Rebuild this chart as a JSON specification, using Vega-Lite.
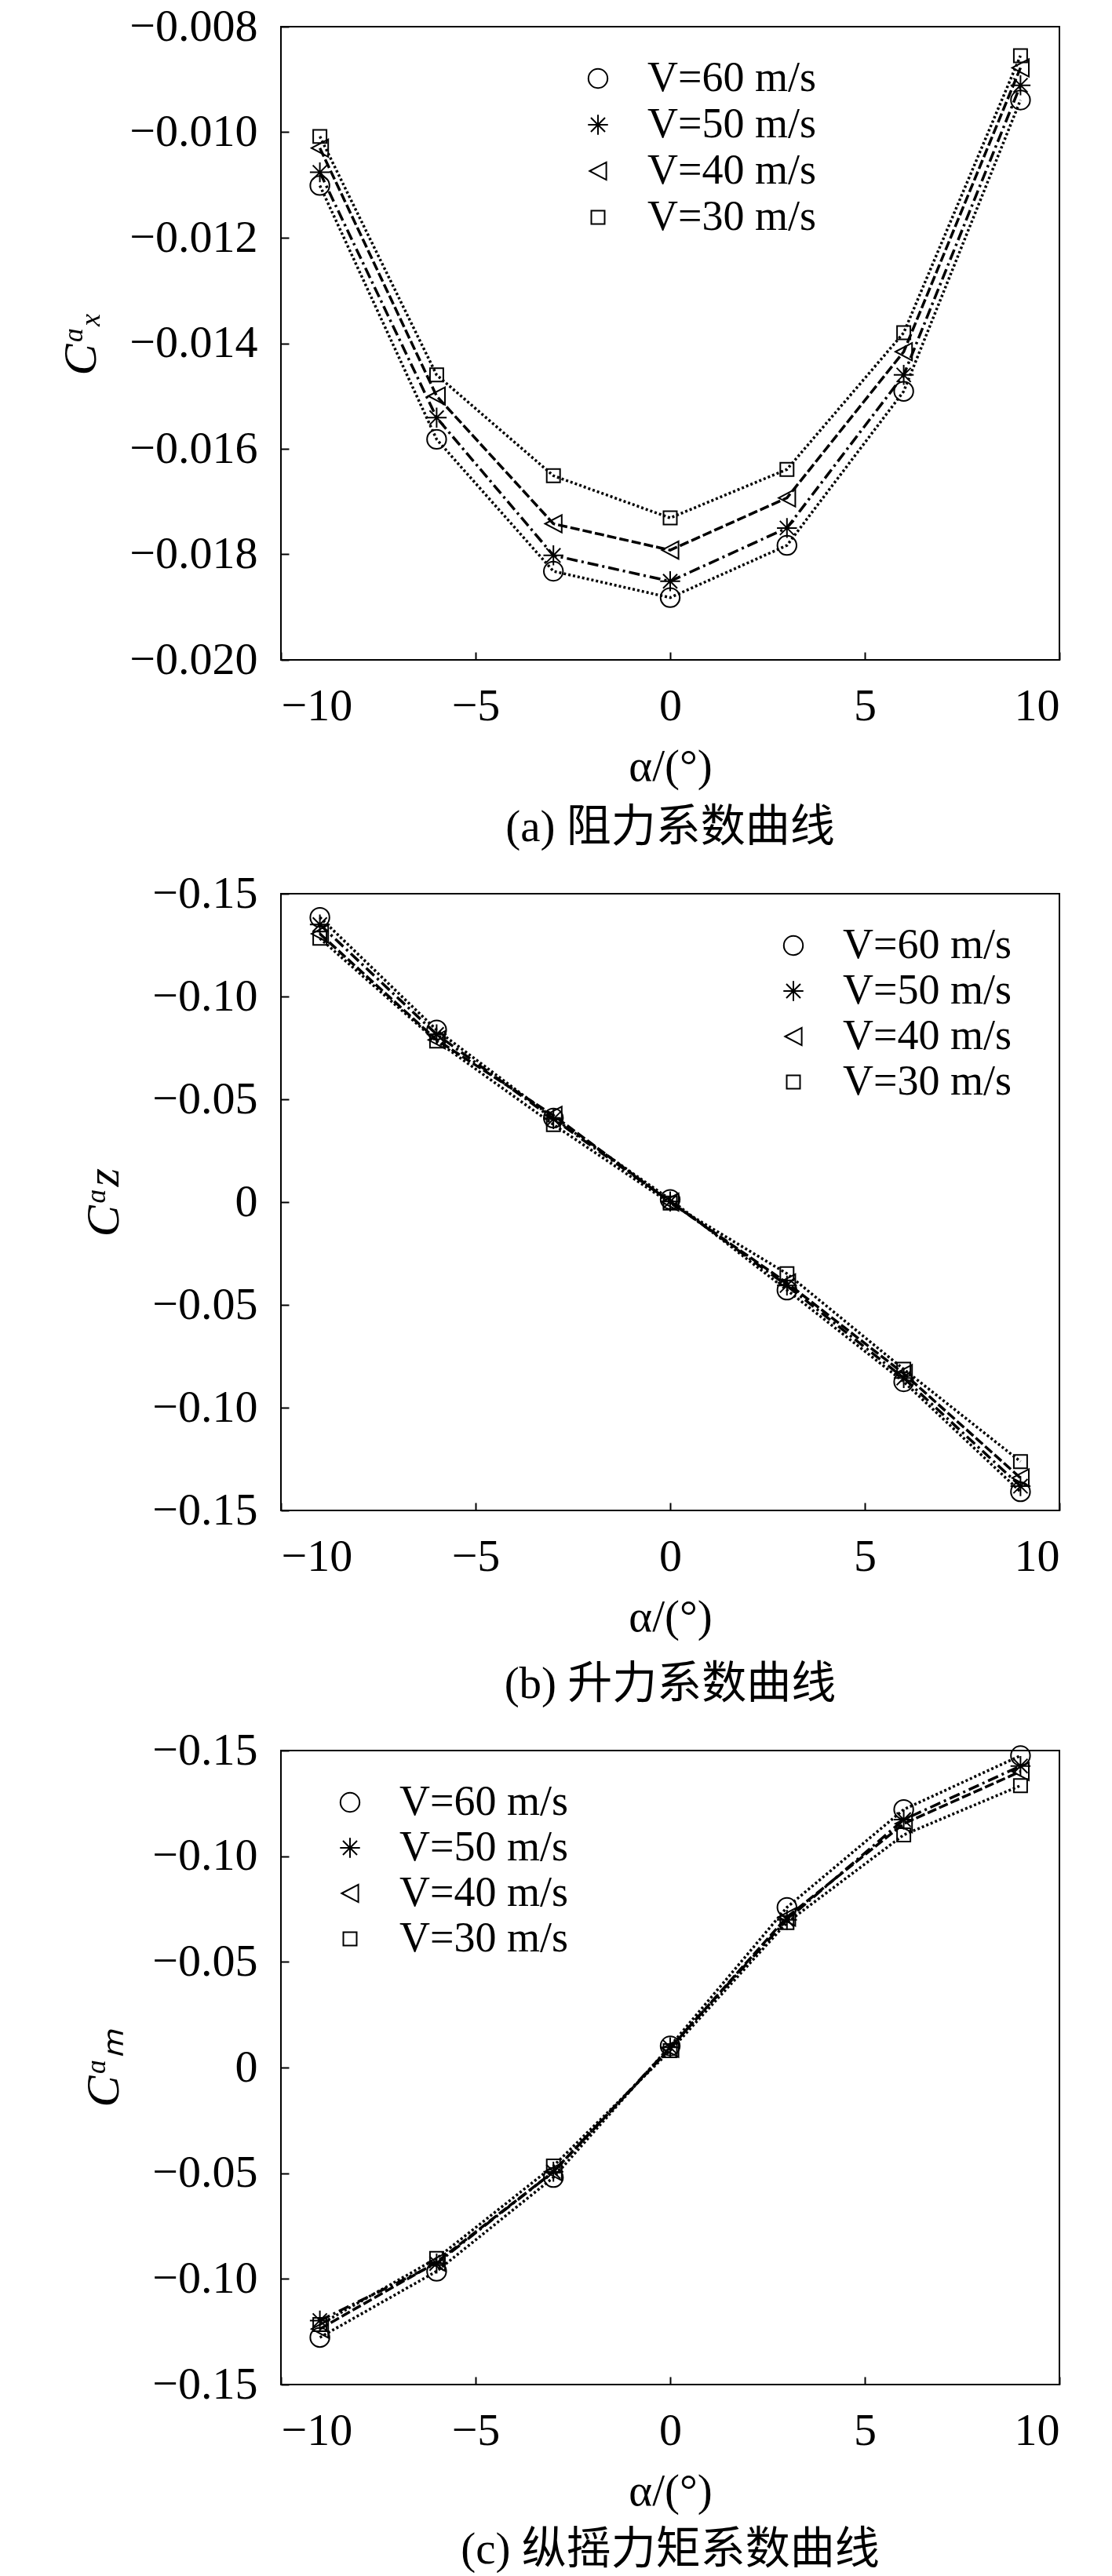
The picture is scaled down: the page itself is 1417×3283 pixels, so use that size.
{
  "$schema": "https://vega.github.io/schema/vega-lite/v6.json",
  "background": "white",
  "padding": {"left": 72, "top": 4, "right": 5, "bottom": 0},
  "spacing": 25,
  "resolve": {"scale": {"shape": "independent", "strokeDash": "independent"}, "legend": {"shape": "independent", "strokeDash": "independent"}},
  "config": {
    "view": {"stroke": "black", "strokeWidth": 2},
    "axis": {
      "labelFont": "Liberation Serif, Times New Roman, serif", "labelFontSize": 58, "labelColor": "black",
      "titleFont": "Liberation Serif, Times New Roman, serif", "titleFontSize": 57, "titleFontWeight": "normal", "titleColor": "black",
      "tickColor": "black", "tickSize": -10, "tickWidth": 2, "grid": false, "domain": false,
      "labelPadding": 40, "titlePadding": 20
    },
    "axisY": {"titleFontStyle": "italic", "titlePadding": 30, "titleFontSize": 60},
    "legend": {"padding": 0, "labelLimit": 500, "symbolOpacity": 1},
    "title": {"font": "Liberation Serif, Noto Sans CJK SC", "fontSize": 57, "fontWeight": "normal", "color": "black", "orient": "bottom", "offset": 22}
  },
  "datasets": {
    "a": [
      {"alpha": -9, "V": "V=60 m/s", "c": -0.01101}, {"alpha": -6, "V": "V=60 m/s", "c": -0.01582}, {"alpha": -3, "V": "V=60 m/s", "c": -0.01832}, {"alpha": 0, "V": "V=60 m/s", "c": -0.01882}, {"alpha": 3, "V": "V=60 m/s", "c": -0.01783}, {"alpha": 6, "V": "V=60 m/s", "c": -0.01491}, {"alpha": 9, "V": "V=60 m/s", "c": -0.00939},
      {"alpha": -9, "V": "V=50 m/s", "c": -0.01076}, {"alpha": -6, "V": "V=50 m/s", "c": -0.01541}, {"alpha": -3, "V": "V=50 m/s", "c": -0.01802}, {"alpha": 0, "V": "V=50 m/s", "c": -0.01851}, {"alpha": 3, "V": "V=50 m/s", "c": -0.01750}, {"alpha": 6, "V": "V=50 m/s", "c": -0.01460}, {"alpha": 9, "V": "V=50 m/s", "c": -0.00911},
      {"alpha": -9, "V": "V=40 m/s", "c": -0.01030}, {"alpha": -6, "V": "V=40 m/s", "c": -0.01500}, {"alpha": -3, "V": "V=40 m/s", "c": -0.01742}, {"alpha": 0, "V": "V=40 m/s", "c": -0.01792}, {"alpha": 3, "V": "V=40 m/s", "c": -0.01693}, {"alpha": 6, "V": "V=40 m/s", "c": -0.01416}, {"alpha": 9, "V": "V=40 m/s", "c": -0.00878},
      {"alpha": -9, "V": "V=30 m/s", "c": -0.01008}, {"alpha": -6, "V": "V=30 m/s", "c": -0.01460}, {"alpha": -3, "V": "V=30 m/s", "c": -0.01651}, {"alpha": 0, "V": "V=30 m/s", "c": -0.01731}, {"alpha": 3, "V": "V=30 m/s", "c": -0.01639}, {"alpha": 6, "V": "V=30 m/s", "c": -0.01380}, {"alpha": 9, "V": "V=30 m/s", "c": -0.00855}
    ],
    "b": [
      {"alpha": -9, "V": "V=60 m/s", "c": 0.1385}, {"alpha": -6, "V": "V=60 m/s", "c": 0.0837}, {"alpha": -3, "V": "V=60 m/s", "c": 0.0409}, {"alpha": 0, "V": "V=60 m/s", "c": 0.0013}, {"alpha": 3, "V": "V=60 m/s", "c": -0.0428}, {"alpha": 6, "V": "V=60 m/s", "c": -0.0874}, {"alpha": 9, "V": "V=60 m/s", "c": -0.1409},
      {"alpha": -9, "V": "V=50 m/s", "c": 0.1350}, {"alpha": -6, "V": "V=50 m/s", "c": 0.0816}, {"alpha": -3, "V": "V=50 m/s", "c": 0.0404}, {"alpha": 0, "V": "V=50 m/s", "c": 0.0003}, {"alpha": 3, "V": "V=50 m/s", "c": -0.0406}, {"alpha": 6, "V": "V=50 m/s", "c": -0.0856}, {"alpha": 9, "V": "V=50 m/s", "c": -0.1382},
      {"alpha": -9, "V": "V=40 m/s", "c": 0.1305}, {"alpha": -6, "V": "V=40 m/s", "c": 0.0789}, {"alpha": -3, "V": "V=40 m/s", "c": 0.0422}, {"alpha": 0, "V": "V=40 m/s", "c": 0.0000}, {"alpha": 3, "V": "V=40 m/s", "c": -0.0393}, {"alpha": 6, "V": "V=40 m/s", "c": -0.0834}, {"alpha": 9, "V": "V=40 m/s", "c": -0.1342},
      {"alpha": -9, "V": "V=30 m/s", "c": 0.1283}, {"alpha": -6, "V": "V=30 m/s", "c": 0.0783}, {"alpha": -3, "V": "V=30 m/s", "c": 0.0377}, {"alpha": 0, "V": "V=30 m/s", "c": -0.0005}, {"alpha": 3, "V": "V=30 m/s", "c": -0.0348}, {"alpha": 6, "V": "V=30 m/s", "c": -0.0813}, {"alpha": 9, "V": "V=30 m/s", "c": -0.1262}
    ],
    "c": [
      {"alpha": -9, "V": "V=60 m/s", "c": -0.1277}, {"alpha": -6, "V": "V=60 m/s", "c": -0.0964}, {"alpha": -3, "V": "V=60 m/s", "c": -0.0520}, {"alpha": 0, "V": "V=60 m/s", "c": 0.0102}, {"alpha": 3, "V": "V=60 m/s", "c": 0.0758}, {"alpha": 6, "V": "V=60 m/s", "c": 0.1221}, {"alpha": 9, "V": "V=60 m/s", "c": 0.1476},
      {"alpha": -9, "V": "V=50 m/s", "c": -0.1197}, {"alpha": -6, "V": "V=50 m/s", "c": -0.0927}, {"alpha": -3, "V": "V=50 m/s", "c": -0.0493}, {"alpha": 0, "V": "V=50 m/s", "c": 0.0096}, {"alpha": 3, "V": "V=50 m/s", "c": 0.0699}, {"alpha": 6, "V": "V=50 m/s", "c": 0.1173}, {"alpha": 9, "V": "V=50 m/s", "c": 0.1427},
      {"alpha": -9, "V": "V=40 m/s", "c": -0.1237}, {"alpha": -6, "V": "V=40 m/s", "c": -0.0921}, {"alpha": -3, "V": "V=40 m/s", "c": -0.0493}, {"alpha": 0, "V": "V=40 m/s", "c": 0.0091}, {"alpha": 3, "V": "V=40 m/s", "c": 0.0712}, {"alpha": 6, "V": "V=40 m/s", "c": 0.1154}, {"alpha": 9, "V": "V=40 m/s", "c": 0.1401},
      {"alpha": -9, "V": "V=30 m/s", "c": -0.1216}, {"alpha": -6, "V": "V=30 m/s", "c": -0.0903}, {"alpha": -3, "V": "V=30 m/s", "c": -0.0466}, {"alpha": 0, "V": "V=30 m/s", "c": 0.0080}, {"alpha": 3, "V": "V=30 m/s", "c": 0.0686}, {"alpha": 6, "V": "V=30 m/s", "c": 0.1101}, {"alpha": 9, "V": "V=30 m/s", "c": 0.1334}
    ]
  },
  "vconcat": [
    {
      "width": 992, "height": 807,
      "title": {"text": "(a) 阻力系数曲线", "offset": 22},
      "data": {"name": "a"},
      "encoding": {
        "x": {"field": "alpha", "type": "quantitative", "scale": {"domain": [-10, 10], "nice": false, "zero": false}, "axis": {"title": "α/(°)", "values": [-10, -5, 0, 5, 10], "format": "d"}},
        "y": {"field": "c", "type": "quantitative", "scale": {"domain": [-0.02, -0.008], "nice": false, "zero": false}, "axis": {"title": "Cᵅₓ", "values": [-0.02, -0.018, -0.016, -0.014, -0.012, -0.01, -0.008], "format": ".3f"}}
      },
      "layer": [
        {"mark": {"type": "line", "color": "black", "strokeWidth": 3.5},
         "encoding": {"strokeDash": {"field": "V", "type": "nominal", "scale": {"range": [[3, 3], [12, 4], [14, 5, 3, 5], [3, 3]]}, "legend": null}}},
        {"mark": {"type": "point", "filled": false, "color": "black", "strokeWidth": 2, "size": 450, "opacity": 1},
         "encoding": {"shape": {"field": "V", "type": "nominal",
           "scale": {"domain": ["V=60 m/s", "V=50 m/s", "V=40 m/s", "V=30 m/s"], "range": ["M-1.15,0A1.15,1.15,0,1,0,1.15,0A1.15,1.15,0,1,0,-1.15,0", "M0,-1.2L0,1.2M-1.2,0L1.2,0M-0.85,-0.85L0.85,0.85M-0.85,0.85L0.85,-0.85", "M-1,0L1,-1.05L1,1.05Z", "M-0.8,-0.8L0.8,-0.8L0.8,0.8L-0.8,0.8Z"]},
           "legend": {"title": null, "orient": "none", "legendX": 377, "legendY": 39, "labelFont": "Liberation Serif, Times New Roman, serif", "labelFontSize": 54, "labelColor": "black", "labelLimit": 500, "symbolSize": 450, "symbolStrokeWidth": 2, "symbolStrokeColor": "black", "symbolOpacity": 1, "labelOffset": 36, "rowPadding": 5,
             "encode": {"symbols": {"update": {"shape": {"signal": "datum.value === 'V=60 m/s' ? 'M-4.6,0L-4.3,0M-4.04,0L-3.74,0M-3.48,0L-3.18,0M-2.92,0L-2.62,0M-2.36,0L-2.06,0M-1.8,0L-1.5,0M1.5,0L1.8,0M2.06,0L2.36,0M2.62,0L2.92,0M3.18,0L3.48,0M3.74,0L4.04,0M4.3,0L4.6,0M-1.15,0A1.15,1.15,0,1,0,1.15,0A1.15,1.15,0,1,0,-1.15,0' : datum.value === 'V=50 m/s' ? 'M-4.6,0L-4.3,0M-4.04,0L-3.74,0M-3.48,0L-3.18,0M-2.92,0L-2.62,0M-2.36,0L-2.06,0M-1.8,0L-1.5,0M1.5,0L1.8,0M2.06,0L2.36,0M2.62,0L2.92,0M3.18,0L3.48,0M3.74,0L4.04,0M4.3,0L4.6,0M0,-1.2L0,1.2M-1.2,0L1.2,0M-0.85,-0.85L0.85,0.85M-0.85,0.85L0.85,-0.85' : datum.value === 'V=40 m/s' ? 'M-4.6,0L-4.3,0M-4.04,0L-3.74,0M-3.48,0L-3.18,0M-2.92,0L-2.62,0M-2.36,0L-2.06,0M-1.8,0L-1.5,0M1.5,0L1.8,0M2.06,0L2.36,0M2.62,0L2.92,0M3.18,0L3.48,0M3.74,0L4.04,0M4.3,0L4.6,0M-1,0L1,-1.05L1,1.05Z' : 'M-4.6,0L-4.3,0M-4.04,0L-3.74,0M-3.48,0L-3.18,0M-2.92,0L-2.62,0M-2.36,0L-2.06,0M-1.8,0L-1.5,0M1.5,0L1.8,0M2.06,0L2.36,0M2.62,0L2.92,0M3.18,0L3.48,0M3.74,0L4.04,0M4.3,0L4.6,0M-0.8,-0.8L0.8,-0.8L0.8,0.8L-0.8,0.8Z'"}}}}}}}}
      ]
    },
    {
      "width": 992, "height": 786,
      "title": {"text": "(b) 升力系数曲线", "offset": 30},
      "data": {"name": "b"},
      "encoding": {
        "x": {"field": "alpha", "type": "quantitative", "scale": {"domain": [-10, 10], "nice": false, "zero": false}, "axis": {"title": "α/(°)", "values": [-10, -5, 0, 5, 10], "format": "d"}},
        "y": {"field": "c", "type": "quantitative", "scale": {"domain": [-0.15, 0.15], "nice": false, "zero": false}, "axis": {"title": "Cᵅz", "values": [-0.15, -0.1, -0.05, 0, 0.05, 0.1, 0.15], "labelExpr": "abs(datum.value) < 1e-9 ? '0' : '\u2212' + format(abs(datum.value), '.2f')"}}
      },
      "layer": [
        {"mark": {"type": "line", "color": "black", "strokeWidth": 3.5},
         "encoding": {"strokeDash": {"field": "V", "type": "nominal", "scale": {"range": [[3, 3], [12, 4], [14, 5, 3, 5], [3, 3]]}, "legend": null}}},
        {"mark": {"type": "point", "filled": false, "color": "black", "strokeWidth": 2, "size": 450, "opacity": 1},
         "encoding": {"shape": {"field": "V", "type": "nominal",
           "scale": {"domain": ["V=60 m/s", "V=50 m/s", "V=40 m/s", "V=30 m/s"], "range": ["M-1.15,0A1.15,1.15,0,1,0,1.15,0A1.15,1.15,0,1,0,-1.15,0", "M0,-1.2L0,1.2M-1.2,0L1.2,0M-0.85,-0.85L0.85,0.85M-0.85,0.85L0.85,-0.85", "M-1,0L1,-1.05L1,1.05Z", "M-0.8,-0.8L0.8,-0.8L0.8,0.8L-0.8,0.8Z"]},
           "legend": {"title": null, "orient": "none", "legendX": 626, "legendY": 39, "labelFont": "Liberation Serif, Times New Roman, serif", "labelFontSize": 54, "labelColor": "black", "labelLimit": 500, "symbolSize": 450, "symbolStrokeWidth": 2, "symbolStrokeColor": "black", "symbolOpacity": 1, "labelOffset": 36, "rowPadding": 4,
             "encode": {"symbols": {"update": {"shape": {"signal": "datum.value === 'V=60 m/s' ? 'M-4.6,0L-4.3,0M-4.04,0L-3.74,0M-3.48,0L-3.18,0M-2.92,0L-2.62,0M-2.36,0L-2.06,0M-1.8,0L-1.5,0M1.5,0L1.8,0M2.06,0L2.36,0M2.62,0L2.92,0M3.18,0L3.48,0M3.74,0L4.04,0M4.3,0L4.6,0M-1.15,0A1.15,1.15,0,1,0,1.15,0A1.15,1.15,0,1,0,-1.15,0' : datum.value === 'V=50 m/s' ? 'M-4.6,0L-4.3,0M-4.04,0L-3.74,0M-3.48,0L-3.18,0M-2.92,0L-2.62,0M-2.36,0L-2.06,0M-1.8,0L-1.5,0M1.5,0L1.8,0M2.06,0L2.36,0M2.62,0L2.92,0M3.18,0L3.48,0M3.74,0L4.04,0M4.3,0L4.6,0M0,-1.2L0,1.2M-1.2,0L1.2,0M-0.85,-0.85L0.85,0.85M-0.85,0.85L0.85,-0.85' : datum.value === 'V=40 m/s' ? 'M-4.6,0L-4.3,0M-4.04,0L-3.74,0M-3.48,0L-3.18,0M-2.92,0L-2.62,0M-2.36,0L-2.06,0M-1.8,0L-1.5,0M1.5,0L1.8,0M2.06,0L2.36,0M2.62,0L2.92,0M3.18,0L3.48,0M3.74,0L4.04,0M4.3,0L4.6,0M-1,0L1,-1.05L1,1.05Z' : 'M-4.6,0L-4.3,0M-4.04,0L-3.74,0M-3.48,0L-3.18,0M-2.92,0L-2.62,0M-2.36,0L-2.06,0M-1.8,0L-1.5,0M1.5,0L1.8,0M2.06,0L2.36,0M2.62,0L2.92,0M3.18,0L3.48,0M3.74,0L4.04,0M4.3,0L4.6,0M-0.8,-0.8L0.8,-0.8L0.8,0.8L-0.8,0.8Z'"}}}}}}}}
      ]
    },
    {
      "width": 992, "height": 808,
      "title": {"text": "(c) 纵摇力矩系数曲线", "offset": 19},
      "data": {"name": "c"},
      "encoding": {
        "x": {"field": "alpha", "type": "quantitative", "scale": {"domain": [-10, 10], "nice": false, "zero": false}, "axis": {"title": "α/(°)", "values": [-10, -5, 0, 5, 10], "format": "d"}},
        "y": {"field": "c", "type": "quantitative", "scale": {"domain": [-0.15, 0.15], "nice": false, "zero": false}, "axis": {"title": "Cᵅₘ", "values": [-0.15, -0.1, -0.05, 0, 0.05, 0.1, 0.15], "labelExpr": "abs(datum.value) < 1e-9 ? '0' : '\u2212' + format(abs(datum.value), '.2f')"}}
      },
      "layer": [
        {"mark": {"type": "line", "color": "black", "strokeWidth": 3.5},
         "encoding": {"strokeDash": {"field": "V", "type": "nominal", "scale": {"range": [[3, 3], [12, 4], [14, 5, 3, 5], [3, 3]]}, "legend": null}}},
        {"mark": {"type": "point", "filled": false, "color": "black", "strokeWidth": 2, "size": 450, "opacity": 1},
         "encoding": {"shape": {"field": "V", "type": "nominal",
           "scale": {"domain": ["V=60 m/s", "V=50 m/s", "V=40 m/s", "V=30 m/s"], "range": ["M-1.15,0A1.15,1.15,0,1,0,1.15,0A1.15,1.15,0,1,0,-1.15,0", "M0,-1.2L0,1.2M-1.2,0L1.2,0M-0.85,-0.85L0.85,0.85M-0.85,0.85L0.85,-0.85", "M-1,0L1,-1.05L1,1.05Z", "M-0.8,-0.8L0.8,-0.8L0.8,0.8L-0.8,0.8Z"]},
           "legend": {"title": null, "orient": "none", "legendX": 61, "legendY": 39, "labelFont": "Liberation Serif, Times New Roman, serif", "labelFontSize": 54, "labelColor": "black", "labelLimit": 500, "symbolSize": 450, "symbolStrokeWidth": 2, "symbolStrokeColor": "black", "symbolOpacity": 1, "labelOffset": 36, "rowPadding": 4,
             "encode": {"symbols": {"update": {"shape": {"signal": "datum.value === 'V=60 m/s' ? 'M-4.6,0L-4.3,0M-4.04,0L-3.74,0M-3.48,0L-3.18,0M-2.92,0L-2.62,0M-2.36,0L-2.06,0M-1.8,0L-1.5,0M1.5,0L1.8,0M2.06,0L2.36,0M2.62,0L2.92,0M3.18,0L3.48,0M3.74,0L4.04,0M4.3,0L4.6,0M-1.15,0A1.15,1.15,0,1,0,1.15,0A1.15,1.15,0,1,0,-1.15,0' : datum.value === 'V=50 m/s' ? 'M-4.6,0L-4.3,0M-4.04,0L-3.74,0M-3.48,0L-3.18,0M-2.92,0L-2.62,0M-2.36,0L-2.06,0M-1.8,0L-1.5,0M1.5,0L1.8,0M2.06,0L2.36,0M2.62,0L2.92,0M3.18,0L3.48,0M3.74,0L4.04,0M4.3,0L4.6,0M0,-1.2L0,1.2M-1.2,0L1.2,0M-0.85,-0.85L0.85,0.85M-0.85,0.85L0.85,-0.85' : datum.value === 'V=40 m/s' ? 'M-4.6,0L-4.3,0M-4.04,0L-3.74,0M-3.48,0L-3.18,0M-2.92,0L-2.62,0M-2.36,0L-2.06,0M-1.8,0L-1.5,0M1.5,0L1.8,0M2.06,0L2.36,0M2.62,0L2.92,0M3.18,0L3.48,0M3.74,0L4.04,0M4.3,0L4.6,0M-1,0L1,-1.05L1,1.05Z' : 'M-4.6,0L-4.3,0M-4.04,0L-3.74,0M-3.48,0L-3.18,0M-2.92,0L-2.62,0M-2.36,0L-2.06,0M-1.8,0L-1.5,0M1.5,0L1.8,0M2.06,0L2.36,0M2.62,0L2.92,0M3.18,0L3.48,0M3.74,0L4.04,0M4.3,0L4.6,0M-0.8,-0.8L0.8,-0.8L0.8,0.8L-0.8,0.8Z'"}}}}}}}}
      ]
    }
  ]
}
